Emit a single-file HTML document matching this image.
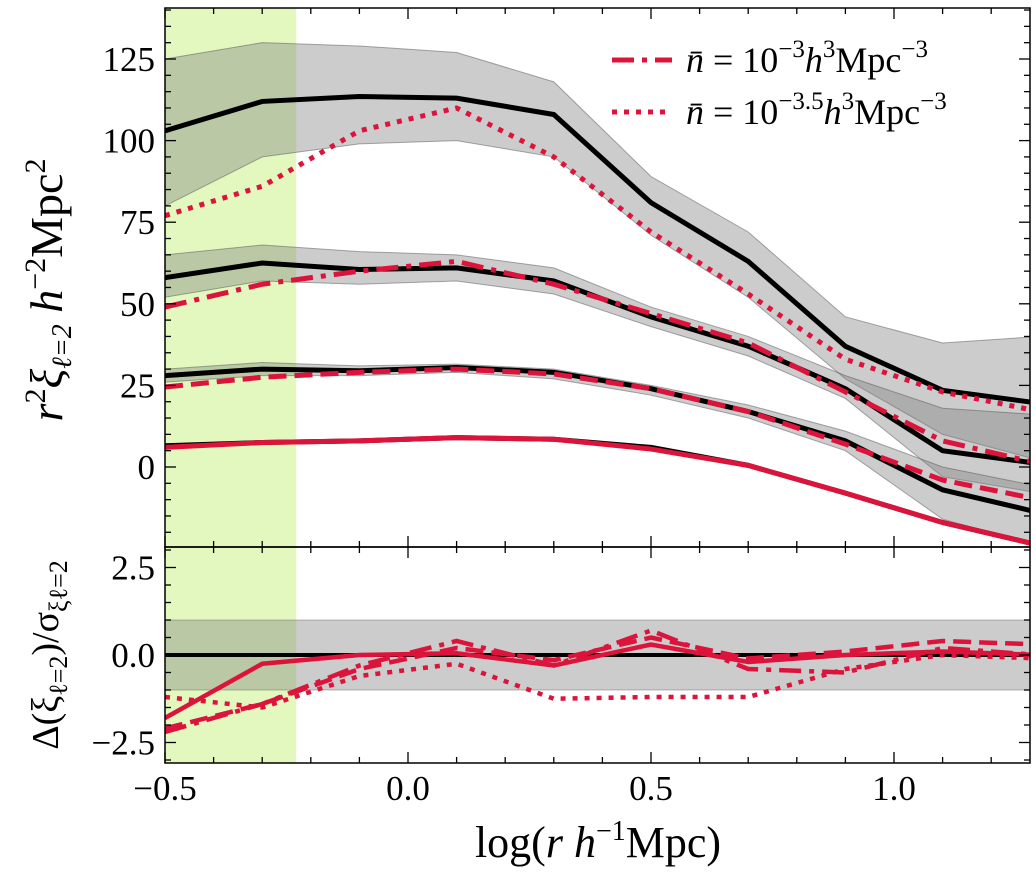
<!DOCTYPE html>
<html><head><meta charset="utf-8"><style>
body{margin:0;background:#fff}
svg text{font-family:"Liberation Serif","DejaVu Serif",serif;fill:#000}
</style></head><body>
<svg id="c" width="1036" height="875" xmlns="http://www.w3.org/2000/svg"></svg>
<script>
const xs=[-0.5,-0.3,-0.1,0.1,0.3,0.5,0.7,0.9,1.1,1.3];
const blackA=[103,112,113.5,113,108,81,63,37,23.5,19.5];
const bandAhi=[125,130,129,127,118,89,72,46,38,40];
const bandAlo=[80,95,99,100,95,71,52,27,10,2];
const redDot=[77,86,103,110,95,72,53,33,23,17];
const blackB=[58,62.5,60.5,61,57,46,37,24,5,1];
const bandBhi=[65,68,66,65,61,49,40,28,18,16];
const bandBlo=[52,57,56,57,53,43,34,21,-3,-8];
const redDashDot=[49,56,60,63,56,47,38,23,8,1];
const blackC=[28,30,29.5,30.5,29,24,17,8,-7,-14];
const bandChi=[30,32,31,31.5,30,25,19,11,0,-6];
const bandClo=[26,28,28,29,27,22,15,5,-16,-24];
const redDash=[24.5,27.5,29,30,28.5,24,17,7,-4,-10];
const blackD=[6.5,7.5,8,9,8.5,6,0.5,-8,-17,-24];
const redSolid=[6,7.5,8,9,8.5,5.5,0.5,-8,-17,-24];
const resSolid=[-1.8,-0.25,0,0.05,-0.3,0.3,-0.2,0,0.1,0];
const resDashDot=[-2.2,-1.4,-0.3,0.4,-0.3,0.7,-0.4,-0.5,0.2,0];
const resDash=[-2.1,-1.4,-0.4,0.2,-0.15,0.5,-0.1,0.1,0.4,0.3];
const resDot=[-1.2,-1.5,-0.6,-0.25,-1.25,-1.2,-1.2,-0.4,0,-0.1];
const xTicks=[-0.5,0.0,0.5,1.0];
const xTickLabels=["\u22120.5","0.0","0.5","1.0"];
const yTopTicks=[0,25,50,75,100,125];
const yBotTicks=[-2.5,0,2.5];
const yBotLabels=["\u22122.5","0.0","2.5"];

const L=165,R=1030,T=8,M=547,B=763;
const X=v=>L+(v+0.5)*486;
const Yt=v=>467-v*3.264;
const Yb=v=>655-v*35;
const svg=document.getElementById('c');
const NS="http://www.w3.org/2000/svg";
function el(tag,attrs,name,parent){const e=document.createElementNS(NS,tag);for(const k in attrs)e.setAttribute(k,attrs[k]);


(parent||svg).appendChild(e);return e;}
const defs=el('defs',{},'defs');
const cp1=el('clipPath',{id:'ct'},'clip-top',defs);el('rect',{x:L,y:T,width:R-L,height:M-T},'clip-rect',cp1);
const cp2=el('clipPath',{id:'cb'},'clip-bottom',defs);el('rect',{x:L,y:M,width:R-L,height:B-M},'clip-rect',cp2);
el('rect',{x:L,y:T,width:X(-0.23)-L,height:B-T,fill:'#e2f8bf'},'green-region');
const gt=el('g',{'clip-path':'url(#ct)'},'top-panel');
const gb=el('g',{'clip-path':'url(#cb)'},'bottom-panel');
function band(hi,lo,Y,g,name){let d=xs.map((x,i)=>(i?'L':'M')+X(x)+','+Y(hi[i])).join('')+xs.slice().reverse().map((x,j)=>{const i=xs.length-1-j;return 'L'+X(x)+','+Y(lo[i]);}).join('')+'Z';
el('path',{d,fill:'#808080','fill-opacity':0.4,stroke:'#555','stroke-opacity':0.5,'stroke-width':1},name,g);}
function line(v,Y,g,color,w,dash,name){el('path',{d:xs.map((x,i)=>(i?'L':'M')+X(x)+','+Y(v[i])).join(''),fill:'none',stroke:color,'stroke-width':w,'stroke-dasharray':dash||'none'},name,g);}
const red='#dc143c';
band(bandAhi,bandAlo,Yt,gt,'band-a');band(bandBhi,bandBlo,Yt,gt,'band-b');band(bandChi,bandClo,Yt,gt,'band-c');
line(blackA,Yt,gt,'#000',5,'','black-line-a');line(redDot,Yt,gt,red,5,'5,7','red-dotted-top');
line(blackB,Yt,gt,'#000',5,'','black-line-b');line(redDashDot,Yt,gt,red,5,'22,8,5,8','red-dashdot-top');
line(blackC,Yt,gt,'#000',5,'','black-line-c');line(redDash,Yt,gt,red,5,'18,8','red-dashed-top');
line(blackD,Yt,gt,'#000',5,'','black-line-d');line(redSolid,Yt,gt,red,5,'','red-solid-top');
el('rect',{x:L,y:Yb(1),width:R-L,height:Yb(-1)-Yb(1),fill:'#808080','fill-opacity':0.4,stroke:'#555','stroke-opacity':0.4},'residual-band',gb);
el('line',{x1:L,x2:R,y1:Yb(0),y2:Yb(0),stroke:'#000','stroke-width':4},'zero-line',gb);
line(resSolid,Yb,gb,red,4.5,'','res-solid');line(resDashDot,Yb,gb,red,4.5,'22,8,5,8','res-dashdot');
line(resDash,Yb,gb,red,4.5,'18,8','res-dashed');line(resDot,Yb,gb,red,4.5,'5,7','res-dotted');
el('rect',{x:L,y:T,width:R-L,height:M-T,fill:'none',stroke:'#000','stroke-width':1.5},'top-frame');
el('rect',{x:L,y:M,width:R-L,height:B-M,fill:'none',stroke:'#000','stroke-width':1.5},'bottom-frame');
for(let v=-0.5;v<=1.3;v+=0.1){const x=X(v);const maj=Math.abs(v*2-Math.round(v*2))<1e-6;const len=maj?11:6;
 for(const [a,b] of [[T,M],[M,B]]){el('line',{x1:x,x2:x,y1:a,y2:a+len,stroke:'#000','stroke-width':1.3},'x-tick',svg);el('line',{x1:x,x2:x,y1:b,y2:b-len,stroke:'#000','stroke-width':1.3},'x-tick',svg);}}
xTicks.forEach((v,i)=>{const t=el('text',{x:X(v),y:800,'font-size':35,'text-anchor':'middle'},'x-tick-label');t.textContent=xTickLabels[i];});
for(let v=-20;v<=140;v+=5){const y=Yt(v);if(y<T||y>M)continue;const maj=v%25===0;const len=maj?11:6;
 el('line',{x1:L,x2:L+len,y1:y,y2:y,stroke:'#000','stroke-width':1.3},'y-tick');el('line',{x1:R,x2:R-len,y1:y,y2:y,stroke:'#000','stroke-width':1.3},'y-tick');}
yTopTicks.forEach(v=>{const t=el('text',{x:155,y:Yt(v)+12,'font-size':35,'text-anchor':'end'},'y-tick-label');t.textContent=v;});
for(let v=-3;v<=3.01;v+=0.5){const y=Yb(v);if(y<M||y>B)continue;const maj=Math.abs(v/2.5-Math.round(v/2.5))<1e-6;const len=maj?11:6;
 el('line',{x1:L,x2:L+len,y1:y,y2:y,stroke:'#000','stroke-width':1.3},'y-tick');el('line',{x1:R,x2:R-len,y1:y,y2:y,stroke:'#000','stroke-width':1.3},'y-tick');}
yBotTicks.forEach((v,i)=>{const t=el('text',{x:155,y:Yb(v)+12,'font-size':35,'text-anchor':'end'},'y-tick-label');t.textContent=yBotLabels[i];});
const xl=el('text',{x:598,y:857,'font-size':44,'text-anchor':'middle'},'x-axis-title');
xl.innerHTML='log(<tspan font-style="italic">r h</tspan><tspan font-size="28" dy="-17">\u22121</tspan><tspan dy="17">Mpc)</tspan>';
const yl=el('text',{x:0,y:0,'font-size':46,'text-anchor':'middle',transform:'translate(62,290) rotate(-90)'},'y-axis-title-top');
yl.innerHTML='<tspan font-style="italic">r</tspan><tspan font-size="30" dy="-17">2</tspan><tspan dy="17" font-style="italic">\u03be</tspan><tspan font-size="28" dy="9" font-style="italic">\u2113=2</tspan><tspan dy="-9" font-style="italic"> h</tspan><tspan font-size="30" dy="-17">\u22122</tspan><tspan dy="17">Mpc</tspan><tspan font-size="30" dy="-17">2</tspan>';
const yl2=el('text',{x:0,y:0,'font-size':38,'text-anchor':'middle',transform:'translate(58,655) rotate(-90)'},'y-axis-title-bottom');
yl2.innerHTML='\u0394(\u03be<tspan font-size="26" dy="9">\u2113=2</tspan><tspan dy="-9">)/\u03c3</tspan><tspan font-size="26" dy="9">\u03be\u2113=2</tspan>';
el('line',{x1:612,x2:672,y1:60,y2:60,stroke:red,'stroke-width':5,'stroke-dasharray':'22,8,5,8'},'legend-dashdot-swatch');
const l1=el('text',{x:686,y:72,'font-size':36},'legend-label-1');
l1.innerHTML='<tspan font-style="italic">n\u0304</tspan> = 10<tspan font-size="25" dy="-15">\u22123</tspan><tspan dy="15" font-style="italic">h</tspan><tspan font-size="25" dy="-15">3</tspan><tspan dy="15">Mpc</tspan><tspan font-size="25" dy="-15">\u22123</tspan>';
el('line',{x1:612,x2:672,y1:112,y2:112,stroke:red,'stroke-width':5,'stroke-dasharray':'5,7'},'legend-dotted-swatch');
const l2=el('text',{x:686,y:124,'font-size':36},'legend-label-2');
l2.innerHTML='<tspan font-style="italic">n\u0304</tspan> = 10<tspan font-size="25" dy="-15">\u22123.5</tspan><tspan dy="15" font-style="italic">h</tspan><tspan font-size="25" dy="-15">3</tspan><tspan dy="15">Mpc</tspan><tspan font-size="25" dy="-15">\u22123</tspan>';
</script>
</body></html>
